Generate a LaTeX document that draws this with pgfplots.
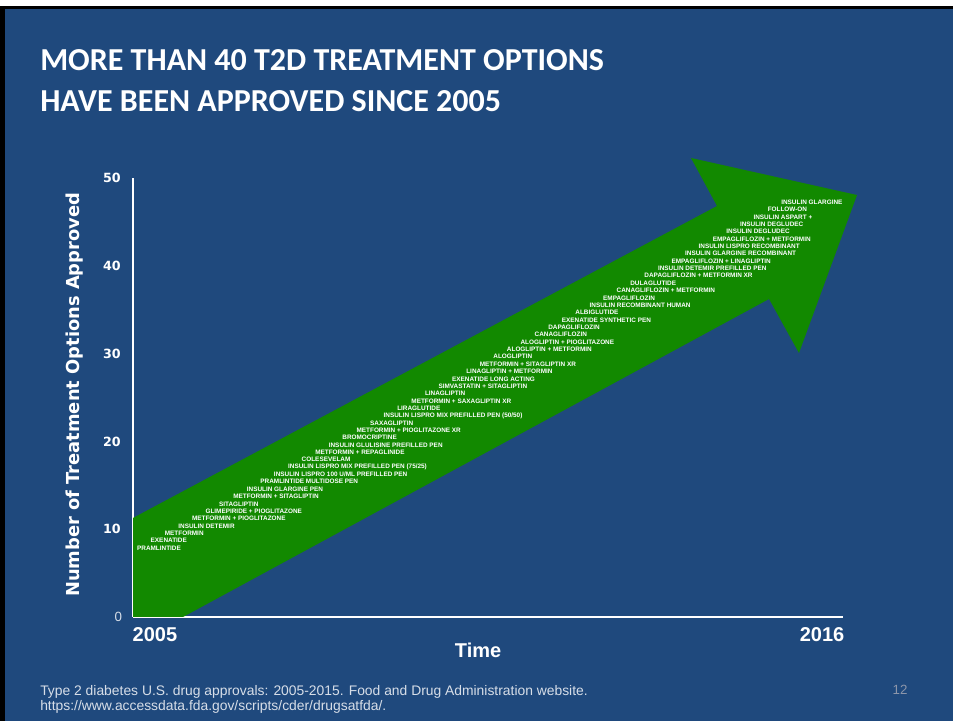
\documentclass[border=0pt]{standalone}
\usepackage{pgfplots}
\pgfplotsset{compat=1.18}
\usepackage{fontspec}
\setmainfont{Liberation Sans}
\newfontfamily\titlefont{Carlito}
\newfontfamily\heavyfont{DejaVu Sans}

\definecolor{slideblue}{RGB}{31,73,125}
\definecolor{arrowgreen}{RGB}{18,137,0}
\definecolor{notegray}{RGB}{215,222,232}
\definecolor{pagegray}{RGB}{140,150,170}

% the big arrow, in axis units (years, count)
\pgfplotstableread[col sep=comma]{
x,y
2005.000,0
2005.775,0
2014.854,36.22
2015.318,30.07
2016.217,48.06
2013.645,52.28
2014.048,46.81
2005.000,11.28
}\arrowdata

% approvals written along the arrow
\pgfplotstableread[col sep=comma]{
x,y,label
2005.06,7.86,PRAMLINTIDE
2005.27,8.70,EXENATIDE
2005.49,9.54,METFORMIN
2005.70,10.37,INSULIN DETEMIR
2005.91,11.21,METFORMIN + PIOGLITAZONE
2006.12,12.05,GLIMEPIRIDE + PIOGLITAZONE
2006.33,12.89,SITAGLIPTIN
2006.55,13.73,METFORMIN + SITAGLIPTIN
2006.76,14.56,INSULIN GLARGINE PEN
2006.97,15.40,PRAMLINTIDE MULTIDOSE PEN
2007.18,16.24,INSULIN LISPRO 100 U/ML PREFILLED PEN
2007.40,17.08,INSULIN LISPRO MIX PREFILLED PEN (75/25)
2007.61,17.92,COLESEVELAM
2007.82,18.75,METFORMIN + REPAGLINIDE
2008.03,19.59,INSULIN GLULISINE PREFILLED PEN
2008.24,20.43,BROMOCRIPTINE
2008.46,21.27,METFORMIN + PIOGLITAZONE XR
2008.67,22.11,SAXAGLIPTIN
2008.88,22.94,INSULIN LISPRO MIX PREFILLED PEN (50/50)
2009.09,23.78,LIRAGLUTIDE
2009.31,24.62,METFORMIN + SAXAGLIPTIN XR
2009.52,25.46,LINAGLIPTIN
2009.73,26.30,SIMVASTATIN + SITAGLIPTIN
2009.94,27.13,EXENATIDE LONG ACTING
2010.16,27.97,LINAGLIPTIN + METFORMIN
2010.37,28.81,METFORMIN + SITAGLIPTIN XR
2010.58,29.65,ALOGLIPTIN
2010.79,30.49,ALOGLIPTIN + METFORMIN
2011.00,31.32,ALOGLIPTIN + PIOGLITAZONE
2011.22,32.16,CANAGLIFLOZIN
2011.43,33.00,DAPAGLIFLOZIN
2011.64,33.84,EXENATIDE SYNTHETIC PEN
2011.85,34.68,ALBIGLUTIDE
2012.07,35.51,INSULIN RECOMBINANT HUMAN
2012.28,36.35,EMPAGLIFLOZIN
2012.49,37.19,CANAGLIFLOZIN + METFORMIN
2012.70,38.03,DULAGLUTIDE
2012.92,38.87,DAPAGLIFLOZIN + METFORMIN XR
2013.13,39.70,INSULIN DETEMIR PREFILLED PEN
2013.34,40.54,EMPAGLIFLOZIN + LINAGLIPTIN
2013.55,41.38,INSULIN GLARGINE RECOMBINANT
2013.76,42.22,INSULIN LISPRO RECOMBINANT
2013.98,43.06,EMPAGLIFLOZIN + METFORMIN
2014.19,43.89,INSULIN DEGLUDEC
2014.40,44.73,INSULIN DEGLUDEC
2014.61,45.57,INSULIN ASPART +
2014.83,46.41,FOLLOW-ON
2015.04,47.25,INSULIN GLARGINE
}\drugdata

\begin{document}
\begin{tikzpicture}
% slide, 953 x 721 px at 0.75pt per px
\useasboundingbox (0,0) rectangle (714.75pt,540.75pt);
\fill[white] (0,0) rectangle (714.75pt,540.75pt);
\fill[black] (0,0) rectangle (714.75pt,536.25pt);
\fill[slideblue] (4pt,0) rectangle (714.75pt,534pt);

% title
\node[anchor=base west, inner sep=0pt, text=white, font=\titlefont\bfseries\fontsize{24}{27}\selectfont]
  at (30pt,487.5pt) {MORE THAN 40 T2D TREATMENT OPTIONS};
\node[anchor=base west, inner sep=0pt, text=white, font=\titlefont\bfseries\fontsize{24}{27}\selectfont]
  at (30pt,456.75pt) {HAVE BEEN APPROVED SINCE 2005};

\begin{axis}[
    at={(99.75pt,78pt)}, anchor=south west,
    scale only axis,
    width=532.5pt, height=329.25pt,
    xmin=2005, xmax=2016,
    ymin=0, ymax=50,
    clip=false,
    /pgf/number format/assume math mode=true,
    axis x line=bottom, axis y line=left,
    axis line style={white, line width=1.6pt, -},
    major tick length=0pt,
    xtick={2005.34,2015.675},
    xticklabels={2005,2016},
    xticklabel style={anchor=north, inner sep=0pt, yshift=-8pt, text=white,
        font=\bfseries\fontsize{15}{16}\selectfont},
    ytick={10,20,30,40,50},
    yticklabels={10,20,30,40,50},
    yticklabel style={anchor=east, inner sep=0pt, xshift=-9pt, text=white,
        font=\heavyfont\bfseries\fontsize{9.5}{10}\selectfont},
    extra y ticks={0},
    extra y tick labels={0},
    extra y tick style={yticklabel style={font=\mdseries\fontsize{10}{11}\selectfont, text=notegray, xshift=1pt}},
    xlabel={Time},
    xlabel style={at={(axis description cs:0.486,0)}, anchor=north, yshift=-16pt,
        text=white, font=\bfseries\fontsize{15}{16}\selectfont},
    ylabel={Number of Treatment Options Approved},
    ylabel style={at={(axis description cs:-0.0817,0.506)}, anchor=center, rotate=0,
        text=white, font=\heavyfont\bfseries\fontsize{13.4}{14}\selectfont},
]
\addplot[fill=arrowgreen, draw=none] table {\arrowdata};
\addplot[draw=none, mark=none,
    nodes near coords, point meta=explicit symbolic,
    nodes near coords style={anchor=west, inner sep=0pt, text=white,
        font=\bfseries\fontsize{4.8}{5}\selectfont}]
    table[meta=label] {\drugdata};
\end{axis}

% source and page number
\node[anchor=base west, inner sep=0pt, text=notegray, font=\fontsize{10.4}{12}\selectfont]
  at (30pt,19.5pt) {Type 2 diabetes U.S. drug approvals: 2005-2015. Food and Drug Administration website.};
\node[anchor=base west, inner sep=0pt, text=notegray, font=\fontsize{10.4}{12}\selectfont]
  at (30pt,7.5pt) {https://www.accessdata.fda.gov/scripts/cder/drugsatfda/.};
\node[anchor=base, inner sep=0pt, text=pagegray, font=\fontsize{10}{12}\selectfont]
  at (675pt,20pt) {12};
\end{tikzpicture}
\end{document}
